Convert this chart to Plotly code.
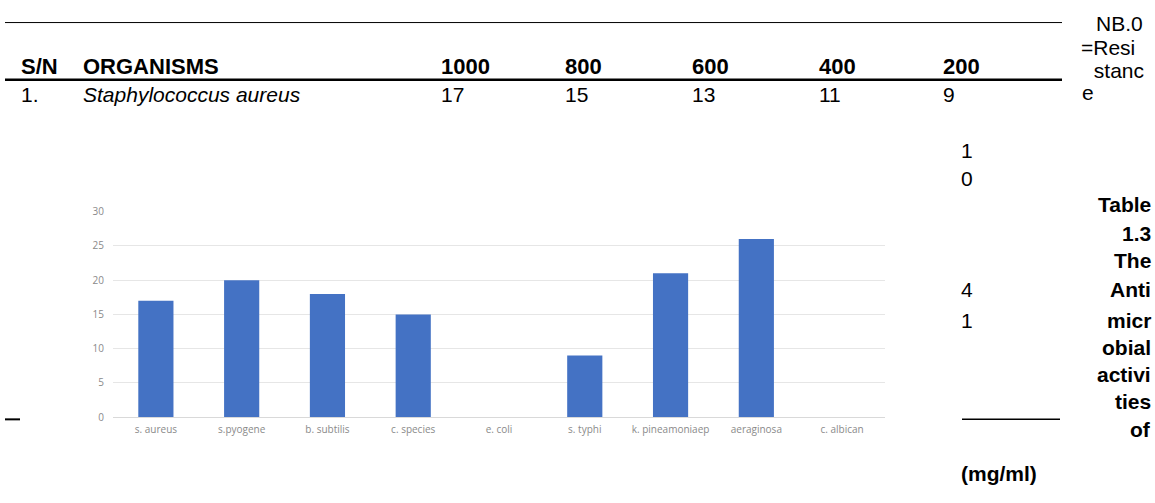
import plotly.graph_objects as go

W, H = 1155, 503

# ---- chart data ----
organisms = ["s. aureus", "s.pyogene", "b. subtilis", "c. species", "e. coli",
             "s. typhi", "k. pineamoniaep", "aeraginosa", "c. albican"]
zones = [17, 20, 18, 15, 0, 9, 21, 26, 0]
y_tick_vals = [0, 5, 10, 15, 20, 25, 30]

# ---- table text ----
header_labels = ["S/N", "ORGANISMS", "1000", "800", "600", "400", "200"]
row_labels = ["1.", "Staphylococcus aureus", "17", "15", "13", "11", "9"]
col_x = [19, 81, 439, 563, 690, 817, 941]

note_lines = ["NB.0", "=Resi", " stanc", "e"]
note_x = [1094, 1079, 1086, 1080]
note_y = [16, 41, 64, 87]

caption_lines = ["Table", "1.3", "The", "Anti", "micr", "obial", "activi", "ties", "of"]
caption_y = [203, 232, 260, 290, 322, 350, 378, 406, 434]

side_digits = ["1", "0", "4", "1"]
side_digit_y = [147, 176, 290, 322]


def px(x):
    return x / W


def py(y):
    return 1 - y / H


fig = go.Figure()
fig.add_trace(go.Bar(
    x=organisms, y=zones,
    marker=dict(color="#4472C4", line=dict(width=0)),
    width=0.41,
    hoverinfo="skip",
))

BODY = "Liberation Sans, Arial, sans-serif"
TICK = "Open Sans, sans-serif"
annotations = []

for lab, x in zip(header_labels, col_x):
    annotations.append(dict(text="<b>%s</b>" % lab, x=px(x), y=py(60), xref="paper", yref="paper",
                            xanchor="left", yanchor="middle", showarrow=False,
                            font=dict(family=BODY, size=22, color="black")))
for i, (lab, x) in enumerate(zip(row_labels, col_x)):
    txt = "<i>%s</i>" % lab if i == 1 else lab
    annotations.append(dict(text=txt, x=px(x), y=py(89), xref="paper", yref="paper",
                            xanchor="left", yanchor="middle", showarrow=False,
                            font=dict(family=BODY, size=21, color="black")))
for lab, x, y in zip(note_lines, note_x, note_y):
    annotations.append(dict(text=lab, x=px(x), y=py(y), xref="paper", yref="paper",
                            xanchor="left", yanchor="middle", showarrow=False,
                            font=dict(family=BODY, size=21, color="black")))
for lab, y in zip(caption_lines, caption_y):
    annotations.append(dict(text="<b>%s</b>" % lab, x=px(1153), y=py(y), xref="paper", yref="paper",
                            xanchor="right", yanchor="middle", showarrow=False,
                            font=dict(family=BODY, size=21, color="black")))
for lab, y in zip(side_digits, side_digit_y):
    annotations.append(dict(text=lab, x=px(959), y=py(y), xref="paper", yref="paper",
                            xanchor="left", yanchor="middle", showarrow=False,
                            font=dict(family=BODY, size=21, color="black")))
annotations.append(dict(text="<b>(mg/ml)</b>", x=px(959), y=py(480), xref="paper", yref="paper",
                        xanchor="left", yanchor="middle", showarrow=False,
                        font=dict(family=BODY, size=21, color="black")))

shapes = [
    dict(type="line", xref="paper", yref="paper", x0=px(5), x1=px(1062), y0=py(15), y1=py(15),
         line=dict(color="black", width=1)),
    dict(type="line", xref="paper", yref="paper", x0=px(5), x1=px(1062), y0=py(74), y1=py(74),
         line=dict(color="black", width=2.5)),
    dict(type="line", xref="paper", yref="paper", x0=px(962), x1=px(1060), y0=py(424), y1=py(424),
         line=dict(color="black", width=1.5)),
    dict(type="line", xref="paper", yref="paper", x0=px(5), x1=px(20), y0=py(424), y1=py(424),
         line=dict(color="black", width=2)),
]

fig.update_layout(
    width=W, height=H,
    margin=dict(l=0, r=0, t=0, b=0),
    paper_bgcolor="white", plot_bgcolor="white",
    showlegend=False,
    bargap=0.59,
    annotations=annotations,
    shapes=shapes,
    xaxis=dict(domain=[px(113), px(885)], showgrid=False, showline=False, zeroline=False,
               ticks="", tickfont=dict(family=TICK, size=10, color="#8a8a8a"),
               ticklabelstandoff=5, fixedrange=True),
    yaxis=dict(domain=[py(421.7), py(210)], range=[0, 30], tickvals=y_tick_vals,
               showgrid=True, gridcolor="#e6e6e6", gridwidth=1,
               zeroline=True, zerolinecolor="#d9d9d9", zerolinewidth=1,
               showline=False, ticks="",
               tickfont=dict(family=TICK, size=10, color="#8a8a8a"),
               ticklabelstandoff=8, fixedrange=True),
)

fig.write_html("out.html")
